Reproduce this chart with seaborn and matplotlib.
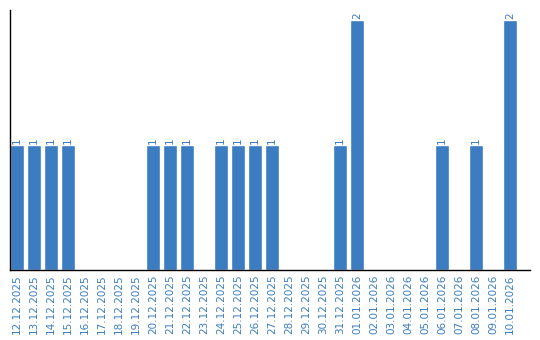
import matplotlib
matplotlib.use("Agg")
import matplotlib.pyplot as plt
import seaborn as sns
import pandas as pd

dates = ["12.12.2025", "13.12.2025", "14.12.2025", "15.12.2025", "16.12.2025",
         "17.12.2025", "18.12.2025", "19.12.2025", "20.12.2025", "21.12.2025",
         "22.12.2025", "23.12.2025", "24.12.2025", "25.12.2025", "26.12.2025",
         "27.12.2025", "28.12.2025", "29.12.2025", "30.12.2025", "31.12.2025",
         "01.01.2026", "02.01.2026", "03.01.2026", "04.01.2026", "05.01.2026",
         "06.01.2026", "07.01.2026", "08.01.2026", "09.01.2026", "10.01.2026"]
counts = [1, 1, 1, 1, 0, 0, 0, 0, 1, 1, 1, 0, 1, 1, 1, 1, 0, 0, 0, 1,
          2, 0, 0, 0, 0, 1, 0, 1, 0, 2]

blue = "#3b7dc0"
df = pd.DataFrame({"date": dates, "count": counts})

sns.set_style("white")
plt.rcParams['font.family'] = ['DejaVu Sans']

fig = plt.figure(figsize=(5.4, 3.4), dpi=100)
ax = fig.add_axes([10/540, 1 - 270/340, 520/540, 260/340])
sns.barplot(data=df, x="date", y="count", order=dates, color=blue,
            width=0.82, saturation=1, ax=ax)

for c in ax.containers:
    labels = [str(v) if v > 0 else "" for v in counts]
    ax.bar_label(c, labels=labels, rotation=90, padding=1, fontsize=7.5, color=blue)

ax.set_xlim(-0.41, 30.18)
ax.set_ylim(0, 2.08)
ax.set_xlabel("")
ax.set_ylabel("")
ax.set_yticks([])
ax.tick_params(axis="x", length=0, pad=3, labelsize=7.5, labelcolor=blue, rotation=90)
for s in ["top", "right"]:
    ax.spines[s].set_visible(False)
for s in ["left", "bottom"]:
    ax.spines[s].set_color("black")
    ax.spines[s].set_linewidth(1)

fig.savefig("out.png", dpi=100)
